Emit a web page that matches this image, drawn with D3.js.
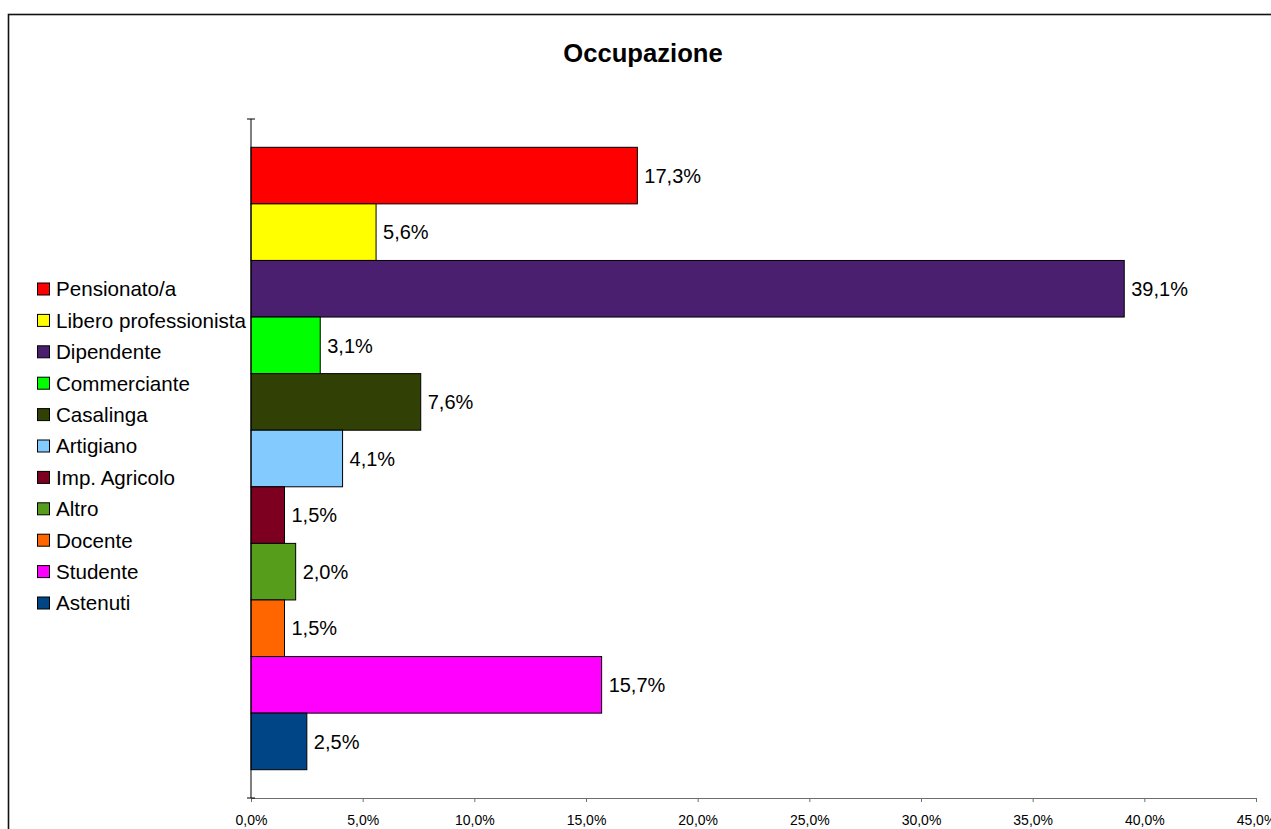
<!DOCTYPE html>
<html>
<head>
<meta charset="utf-8">
<script src="https://cdn.jsdelivr.net/npm/d3@7"></script>
<style>
  body { margin: 0; background: #fff; }
  text { font-family: "Liberation Sans", Arial, sans-serif; }
</style>
</head>
<body>
<svg id="chart"></svg>
<script>
var width = 1271;
var height = 829;

// data
var categories = ["Pensionato/a", "Libero professionista", "Dipendente", "Commerciante",
                  "Casalinga", "Artigiano", "Imp. Agricolo", "Altro", "Docente",
                  "Studente", "Astenuti"];
var values = [17.3, 5.6, 39.1, 3.1, 7.6, 4.1, 1.5, 2.0, 1.5, 15.7, 2.5];
var colors = ["#ff0000", "#ffff00", "#4b1f6f", "#00ff00", "#314004", "#83caff",
              "#7e0021", "#579d1c", "#ff6600", "#ff00ff", "#004586"];
var xTicks = [0, 5, 10, 15, 20, 25, 30, 35, 40, 45];

var plot = { left: 251, right: 1256, top: 119, bottom: 798 };

var locale = d3.formatLocale({ decimal: ",", thousands: ".", grouping: [3], currency: ["", "€"] });
var fmt = locale.format(".1f");

var svg = d3.select("svg")
    .attr("width", width)
    .attr("height", height);

// chart frame (runs off the right and bottom edges)
svg.append("rect")
    .attr("x", 8.5).attr("y", 14.5)
    .attr("width", 1400).attr("height", 1000)
    .attr("fill", "none")
    .attr("stroke", "#111")
    .attr("stroke-width", 1.6);

svg.append("text")
    .attr("x", 643).attr("y", 62)
    .attr("text-anchor", "middle")
    .style("font-size", "25.6px")
    .style("font-weight", "bold")
    .text("Occupazione");

var xscale = d3.scaleLinear()
    .domain([0, 45])
    .range([plot.left, plot.right]);
var yscale = d3.scaleBand()
    .domain(categories)
    .range([plot.top, plot.bottom])
    .paddingInner(0)
    .paddingOuter(0.5);

// x axis
var xaxis = d3.axisBottom(xscale)
    .tickValues(xTicks)
    .tickSize(4)
    .tickSizeOuter(0)
    .tickFormat(function(d){ return fmt(d) + "%"; });
var gx = svg.append("g")
    .attr("transform", "translate(0," + plot.bottom + ")")
    .call(xaxis);
gx.select(".domain").attr("stroke", "#6e6e6e").attr("stroke-width", 1.2);
gx.selectAll(".tick line").attr("stroke", "#6e6e6e");
gx.selectAll(".tick text")
    .attr("y", 17)
    .style("font-size", "14px")
    .style("font-family", "'Liberation Sans', Arial, sans-serif")
    .attr("fill", "#000");

// bars
svg.selectAll("rect.bar")
    .data(values)
    .enter().append("rect")
    .attr("class", "bar")
    .attr("x", xscale(0))
    .attr("y", function(d, i){ return yscale(categories[i]); })
    .attr("width", function(d){ return xscale(d) - xscale(0); })
    .attr("height", yscale.bandwidth())
    .attr("fill", function(d, i){ return colors[i]; })
    .attr("stroke", "#000")
    .attr("stroke-width", 1);

// value labels
svg.selectAll("text.lbl")
    .data(values)
    .enter().append("text")
    .attr("class", "lbl")
    .attr("x", function(d){ return xscale(d) + 7; })
    .attr("y", function(d, i){ return yscale(categories[i]) + yscale.bandwidth() / 2; })
    .attr("dy", "0.36em")
    .style("font-size", "20px")
    .text(function(d){ return fmt(d) + "%"; });

// y axis line with crossing end ticks
var yr = yscale.range();
svg.append("line")
    .attr("x1", plot.left).attr("x2", plot.left)
    .attr("y1", yr[0]).attr("y2", yr[1])
    .attr("stroke", "#000");
svg.selectAll("line.yend")
    .data(yr)
    .enter().append("line")
    .attr("class", "yend")
    .attr("x1", plot.left - 4).attr("x2", plot.left + 4)
    .attr("y1", function(d){ return d; }).attr("y2", function(d){ return d; })
    .attr("stroke", "#000");

// legend
var legend = svg.append("g").attr("transform", "translate(37,289)");
var rows = legend.selectAll("g")
    .data(categories)
    .enter().append("g")
    .attr("transform", function(d, i){ return "translate(0," + (i * 31.4) + ")"; });
rows.append("rect")
    .attr("x", 0.5).attr("y", -6)
    .attr("width", 12).attr("height", 12)
    .attr("fill", function(d, i){ return colors[i]; })
    .attr("stroke", "#000");
rows.append("text")
    .attr("x", 19)
    .attr("dy", "0.36em")
    .style("font-size", "20.6px")
    .text(function(d){ return d; });
</script>
</body>
</html>
